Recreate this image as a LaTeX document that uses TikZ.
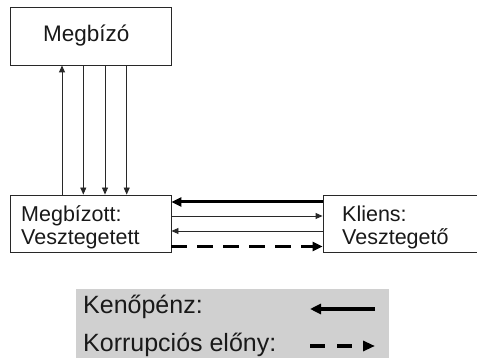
\documentclass[tikz,border=0pt]{standalone}
\usepackage{fontspec}
\setmainfont{Liberation Sans}
\usetikzlibrary{arrows.meta}
\definecolor{legendgray}{RGB}{208,208,208}
\definecolor{linegray}{RGB}{40,40,40}
\tikzset{
  boxnode/.style={draw=linegray, line width=0.9pt, rectangle, inner sep=0pt},
  boxtext/.style={anchor=base west, inner sep=0pt, font=\fontsize{21.5}{23}\selectfont, text=black!90},
  legtext/.style={anchor=base west, inner sep=0pt, font=\fontsize{25}{27}\selectfont, text=black!90},
  thinarrow/.style={draw=linegray, line width=0.9pt, -{Triangle[length=7pt,width=6pt]}},
  thickarrow/.style={draw=black, line width=3pt, -{Triangle[length=10pt,width=9pt]}},
  dasharrow/.style={draw=black, line width=3pt, dash pattern=on 16pt off 10pt, -{Triangle[length=10pt,width=9pt]}},
}
\begin{document}
\begin{tikzpicture}[x=1pt,y=-1pt]
\useasboundingbox (0,0) rectangle (477,358);
\clip (0,0) rectangle (477,358);
\fill[white] (0,0) rectangle (477,358);
% boxes
\node[boxnode, minimum width=161pt, minimum height=58pt] (megbizo) at (90.5,36) {};
\node[boxnode, minimum width=161pt, minimum height=57pt] (megbizott) at (90.5,223.5) {};
\node[boxnode, minimum width=170pt, minimum height=57pt] (kliens) at (408,223.5) {};
% texts
\node[boxtext, font=\fontsize{22.5}{24}\selectfont] (t1) at (43,42) {Megbízó};
\node[boxtext] (t2) at (21,221.5) {Megbízott:};
\node[boxtext] (t3) at (21,245) {Vesztegetett};
\node[boxtext] (t4) at (342,221.5) {Kliens:};
\node[boxtext] (t5) at (342,245) {Vesztegető};
% vertical connectors
\coordinate (v1) at (62,0);
\coordinate (v2) at (83.3,0);
\coordinate (v3) at (105,0);
\coordinate (v4) at (126.7,0);
\draw[thinarrow] (v1 |- megbizott.north) -- (v1 |- megbizo.south);
\draw[thinarrow] (v2 |- megbizo.south) -- (v2 |- megbizott.north);
\draw[thinarrow] (v3 |- megbizo.south) -- (v3 |- megbizott.north);
\draw[thinarrow] (v4 |- megbizo.south) -- (v4 |- megbizott.north);
% horizontal connectors
\coordinate (h1) at (0,202);
\coordinate (h2) at (0,216);
\coordinate (h3) at (0,231);
\coordinate (h4) at (0,246.5);
\draw[thickarrow] (kliens.west |- h1) -- (megbizott.east |- h1);
\draw[thinarrow] (megbizott.east |- h2) -- (kliens.west |- h2);
\draw[thinarrow] (kliens.west |- h3) -- (megbizott.east |- h3);
\draw[dasharrow] (megbizott.east |- h4) -- (kliens.west |- h4);
% legend
\fill[legendgray] (76,289) rectangle (389,362);
\node[legtext] (l1) at (83,314) {Kenőpénz:};
\node[legtext] (l2) at (83,352) {Korrupciós előny:};
\coordinate (la) at (375,309);
\coordinate (lb) at (310,309);
\coordinate (lc) at (310,346);
\coordinate (ld) at (375,346);
\draw[thickarrow, line width=3.5pt, -{Triangle[length=11pt,width=10pt]}] (la) -- (lb);
\draw[dasharrow, line width=4pt, dash pattern=on 15pt off 12pt, -{Triangle[length=12pt,width=10pt]}] (lc) -- (ld);
\end{tikzpicture}
\end{document}
